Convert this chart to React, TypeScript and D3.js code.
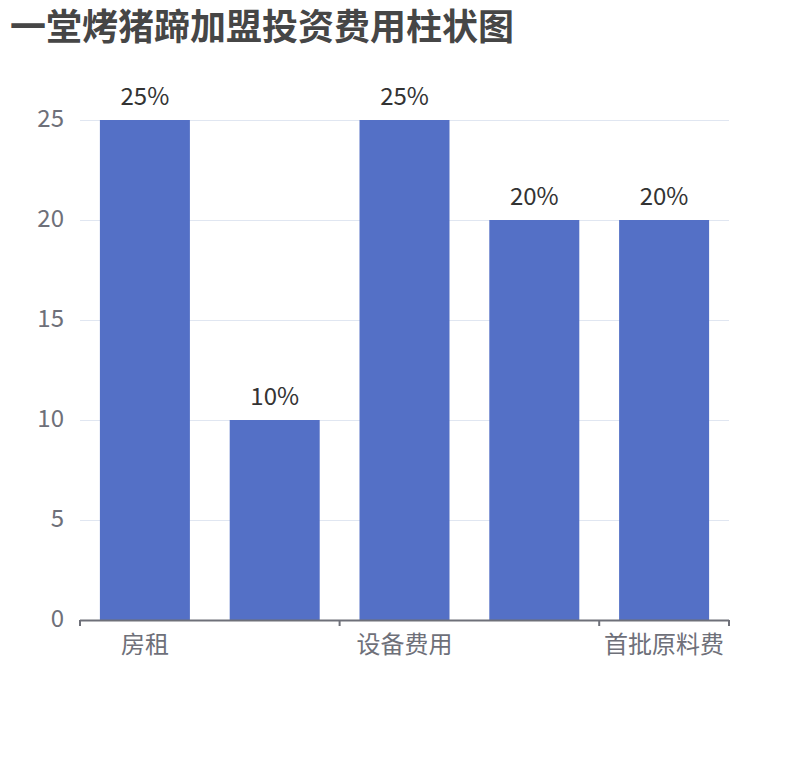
import { useEffect, useRef } from 'react'
import * as d3 from 'd3'

const title = '一堂烤猪蹄加盟投资费用柱状图'
const categories = ['房租', '装修费用', '设备费用', '加盟费', '首批原料费']
const values = [25, 10, 25, 20, 20]
const yTicks = [0, 5, 10, 15, 20, 25]

const FONT = '"Noto Sans CJK SC", "Noto Sans", sans-serif'

export default function App() {
  const svgRef = useRef<SVGSVGElement>(null)
  const width = 810
  const height = 760

  useEffect(() => {
    if (!svgRef.current) return
    const svg = d3.select(svgRef.current)
    svg.selectAll('*').remove()

    const margin = { top: 120, right: 81, bottom: 140, left: 80 }
    const innerWidth = width - margin.left - margin.right
    const innerHeight = height - margin.top - margin.bottom

    const x = d3.scaleBand<string>()
      .domain(categories)
      .range([0, innerWidth])
      .paddingInner(0)
    const y = d3.scaleLinear().domain([0, 25]).range([innerHeight, 0])

    svg.append('text')
      .attr('x', 10)
      .attr('y', 40)
      .attr('font-family', FONT)
      .attr('font-size', 36)
      .attr('font-weight', 'bold')
      .attr('fill', '#464646')
      .text(title)

    const g = svg.append('g')
      .attr('transform', `translate(${margin.left},${margin.top})`)

    // grid lines
    g.selectAll('.grid')
      .data(yTicks.filter(t => t > 0))
      .enter()
      .append('line')
      .attr('x1', 0)
      .attr('x2', innerWidth)
      .attr('y1', d => Math.round(y(d)) + 0.5)
      .attr('y2', d => Math.round(y(d)) + 0.5)
      .attr('stroke', '#e0e6f1')
      .attr('stroke-width', 1)

    // y labels
    g.selectAll('.ylab')
      .data(yTicks)
      .enter()
      .append('text')
      .attr('x', -16)
      .attr('y', d => y(d) + 7)
      .attr('text-anchor', 'end')
      .attr('font-family', FONT)
      .attr('font-size', 24)
      .attr('fill', '#6e7079')
      .text(d => d)

    const bw = 90
    g.selectAll('.bar')
      .data(values)
      .enter()
      .append('rect')
      .attr('x', (_, i) => x(categories[i])! + x.bandwidth() / 2 - bw / 2)
      .attr('y', d => y(d))
      .attr('width', bw)
      .attr('height', d => innerHeight - y(d))
      .attr('fill', '#5470c6')

    g.selectAll('.vlab')
      .data(values)
      .enter()
      .append('text')
      .attr('x', (_, i) => x(categories[i])! + x.bandwidth() / 2)
      .attr('y', d => y(d) - 15)
      .attr('text-anchor', 'middle')
      .attr('font-family', FONT)
      .attr('font-size', 24)
      .attr('fill', '#333')
      .text(d => `${d}%`)

    // x axis
    g.append('line')
      .attr('x1', 0)
      .attr('x2', innerWidth)
      .attr('y1', innerHeight + 0.5)
      .attr('y2', innerHeight + 0.5)
      .attr('stroke', '#6e7079')
      .attr('stroke-width', 2)

    const tickPos = categories
      .map((c, i) => (i % 2 === 0 ? x(c)! : null))
      .filter(v => v !== null) as number[]
    tickPos.push(innerWidth)

    g.selectAll('.tick')
      .data(tickPos)
      .enter()
      .append('line')
      .attr('x1', d => d)
      .attr('x2', d => d)
      .attr('y1', innerHeight)
      .attr('y2', innerHeight + 6)
      .attr('stroke', '#6e7079')
      .attr('stroke-width', 2)

    g.selectAll('.xlab')
      .data(categories.filter((_, i) => i % 2 === 0))
      .enter()
      .append('text')
      .attr('x', d => x(d)! + x.bandwidth() / 2)
      .attr('y', innerHeight + 33)
      .attr('text-anchor', 'middle')
      .attr('font-family', FONT)
      .attr('font-size', 24)
      .attr('fill', '#6e7079')
      .text(d => d)
  }, [])

  return (
    <svg
      ref={svgRef}
      width={width}
      height={height}
      style={{ position: 'absolute', left: 0, top: 0, background: '#fff' }}
    />
  )
}
